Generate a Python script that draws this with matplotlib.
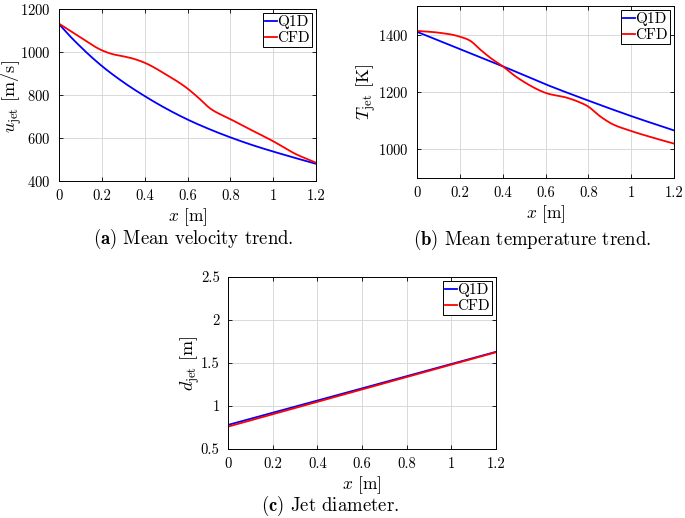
import matplotlib
matplotlib.use("Agg")
import matplotlib.pyplot as plt
import numpy as np

plt.rcParams["font.family"] = ["cmr10", "DejaVu Serif"]
plt.rcParams["mathtext.fontset"] = "cm"
plt.rcParams["axes.formatter.use_mathtext"] = True
plt.rcParams["axes.unicode_minus"] = False

# (a) mean velocity
x_u = [0, 0.05, 0.1, 0.15, 0.2, 0.3, 0.4, 0.5, 0.6, 0.7, 0.8, 0.9, 1.0, 1.1, 1.2]
u_q1d = [1130, 1075, 1025, 978, 935, 860, 795, 737, 686, 642, 603, 568, 537, 508, 480]
x_u_cfd = [0, 0.1, 0.2, 0.25, 0.3, 0.35, 0.4, 0.5, 0.6, 0.65, 0.7, 0.8, 0.9, 1.0, 1.1, 1.2]
u_cfd = [1132, 1068, 1008, 990, 980, 968, 950, 895, 830, 788, 742, 688, 636, 585, 528, 485]

# (b) mean temperature
x_t = [0, 0.2, 0.4, 0.6, 0.8, 1.0, 1.2]
t_q1d = [1410, 1350, 1290, 1227, 1170, 1116, 1066]
x_t_cfd = [0, 0.1, 0.2, 0.25, 0.3, 0.35, 0.4, 0.45, 0.5, 0.6, 0.7, 0.75, 0.8, 0.85, 0.9, 1.0, 1.1, 1.2]
t_cfd = [1413, 1407, 1393, 1378, 1345, 1315, 1290, 1260, 1235, 1197, 1180, 1167, 1149, 1118, 1093, 1064, 1041, 1020]

# (c) jet diameter
x_d = [0, 1.2]
d_q1d = [0.78, 1.63]
d_cfd = [0.76, 1.625]

W, H = 685, 518


def smooth(x, y, n=200):
    """Cubic Hermite curve through the read points."""
    x = np.asarray(x, float)
    y = np.asarray(y, float)
    xs = np.linspace(x[0], x[-1], n)
    m = np.gradient(y, x)
    k = np.clip(np.searchsorted(x, xs, side="right") - 1, 0, len(x) - 2)
    h = x[k + 1] - x[k]
    t = (xs - x[k]) / h
    h00 = 2 * t**3 - 3 * t**2 + 1
    h10 = t**3 - 2 * t**2 + t
    h01 = -2 * t**3 + 3 * t**2
    h11 = t**3 - t**2
    ys = h00 * y[k] + h10 * h * m[k] + h01 * y[k + 1] + h11 * h * m[k + 1]
    return xs, ys


def make_axes(fig, left, top, right, bottom):
    ax = fig.add_axes([left / W, 1 - bottom / H, (right - left) / W, (bottom - top) / H])
    ax.grid(True, color="#d9d9d9", linewidth=0.7)
    ax.set_axisbelow(True)
    ax.tick_params(direction="in", length=3, width=0.6, labelsize=10.5, pad=6,
                   top=True, right=True)
    for s in ax.spines.values():
        s.set_linewidth(0.7)
    ax.set_xlim(0, 1.2)
    ax.set_xticks([0, 0.2, 0.4, 0.6, 0.8, 1, 1.2])
    ax.set_xticklabels(["0", "0.2", "0.4", "0.6", "0.8", "1", "1.2"])
    ax.set_xlabel(r"$x$ [m]", fontsize=12.5, labelpad=2)
    return ax


def add_legend(ax):
    leg = ax.legend(loc="upper right", fontsize=11, handlelength=0.75, handletextpad=0.05,
                    borderpad=0.15, labelspacing=0.15, borderaxespad=0.25,
                    fancybox=False, framealpha=1, edgecolor="black")
    leg.get_frame().set_linewidth(0.7)


def add_lines(ax, xq, yq, xc, yc):
    ax.plot(*smooth(xq, yq), color="blue", lw=1.3, label="Q1D")
    ax.plot(*smooth(xc, yc), color="red", lw=1.3, label="CFD")
    add_legend(ax)


fig = plt.figure(figsize=(W / 100, H / 100), dpi=100)

ax1 = make_axes(fig, 59, 9, 316, 181)
add_lines(ax1, x_u, u_q1d, x_u_cfd, u_cfd)
ax1.set_ylim(400, 1200)
ax1.set_yticks([400, 600, 800, 1000, 1200])
ax1.set_ylabel(r"$u_{\mathrm{jet}}$ [m/s]", fontsize=13)
ax1.yaxis.set_label_coords((24 - 59) / 257, 0.49)

ax2 = make_axes(fig, 417, 6, 674, 178)
add_lines(ax2, x_t, t_q1d, x_t_cfd, t_cfd)
ax2.set_ylim(900, 1500)
ax2.set_yticks([1000, 1200, 1400])
ax2.set_ylabel(r"$T_{\mathrm{jet}}$ [K]", fontsize=13)
ax2.yaxis.set_label_coords((378 - 417) / 257, 0.5)

ax3 = make_axes(fig, 228, 277, 496, 449)
ax3.plot(x_d, d_q1d, color="blue", lw=1.3, label="Q1D")
ax3.plot(x_d, d_cfd, color="red", lw=1.3, label="CFD")
add_legend(ax3)
ax3.set_ylim(0.5, 2.5)
ax3.set_yticks([0.5, 1, 1.5, 2, 2.5])
ax3.set_yticklabels(["0.5", "1", "1.5", "2", "2.5"])
ax3.set_ylabel(r"$d_{\mathrm{jet}}$ [m]", fontsize=13)
ax3.yaxis.set_label_coords((202 - 228) / 268, 0.5)

fig.text(193 / W, 1 - 239 / H, r"$\mathbf{(a)}$ Mean velocity trend.", ha="center", va="center", fontsize=13.5)
fig.text(532 / W, 1 - 240 / H, r"$\mathbf{(b)}$ Mean temperature trend.", ha="center", va="center", fontsize=13.5)
fig.text(330 / W, 1 - 506 / H, r"$\mathbf{(c)}$ Jet diameter.", ha="center", va="center", fontsize=13.5)

fig.savefig("out.png", dpi=100)
